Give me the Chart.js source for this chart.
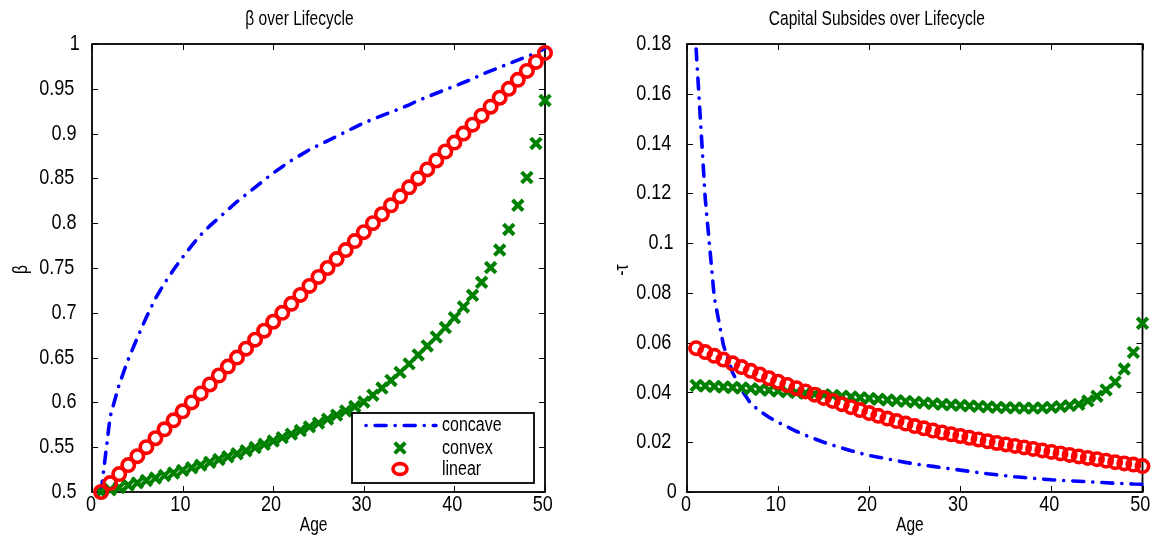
<!DOCTYPE html>
<html>
<head>
<meta charset="utf-8">
<script src="https://cdn.jsdelivr.net/npm/chart.js@4.4.1/dist/chart.umd.min.js"></script>
<style>
  html, body { margin: 0; padding: 0; background: #fff; }
  #wrap { position: relative; width: 1154px; height: 542px; overflow: hidden; }
  #c1 { position: absolute; left: 0; top: 0; }
  #c2 { position: absolute; left: 577px; top: 0; }
</style>
</head>
<body>
<div id="wrap">
  <canvas id="c1" width="577" height="542"></canvas>
  <canvas id="c2" width="577" height="542"></canvas>
</div>
<script>
// ---------------- data ----------------
const ages = [1,2,3,4,5,6,7,8,9,10,11,12,13,14,15,16,17,18,19,20,21,22,23,24,25,26,27,28,29,30,31,32,33,34,35,36,37,38,39,40,41,42,43,44,45,46,47,48,49,50];

const betaConcave = [0.500,0.584,0.620,0.648,0.672,0.695,0.716,0.733,0.748,0.762,0.775,0.787,0.797,0.806,0.815,0.824,0.832,0.840,0.848,0.856,0.863,0.870,0.876,0.882,0.887,0.892,0.897,0.902,0.907,0.912,0.916,0.920,0.924,0.928,0.932,0.937,0.941,0.945,0.949,0.953,0.957,0.961,0.966,0.970,0.974,0.978,0.982,0.986,0.990,0.995];
const betaConvex = [0.5000,0.5025,0.5050,0.5076,0.5102,0.5129,0.5156,0.5184,0.5212,0.5241,0.5270,0.5300,0.5331,0.5362,0.5394,0.5427,0.5461,0.5496,0.5532,0.5569,0.5607,0.5646,0.5686,0.5727,0.5769,0.5813,0.5858,0.5905,0.5954,0.6005,0.6080,0.6160,0.6245,0.6335,0.6430,0.6530,0.6630,0.6730,0.6835,0.6945,0.7065,0.7195,0.7340,0.7505,0.7700,0.7930,0.8200,0.8510,0.8890,0.9370];
const betaLinear = [0.50,0.51,0.52,0.53,0.54,0.55,0.56,0.57,0.58,0.59,0.60,0.61,0.62,0.63,0.64,0.65,0.66,0.67,0.68,0.69,0.70,0.71,0.72,0.73,0.74,0.75,0.76,0.77,0.78,0.79,0.80,0.81,0.82,0.83,0.84,0.85,0.86,0.87,0.88,0.89,0.90,0.91,0.92,0.93,0.94,0.95,0.96,0.97,0.98,0.99];

const tauConcave = [0.178,0.118,0.078,0.059,0.048,0.041,0.0355,0.0325,0.0300,0.0280,0.0262,0.0244,0.0228,0.0214,0.0200,0.0188,0.0177,0.0166,0.0156,0.0147,0.0140,0.0133,0.0126,0.0119,0.0113,0.0108,0.0103,0.0098,0.0093,0.0088,0.0083,0.0078,0.0073,0.0069,0.0065,0.0061,0.0058,0.0055,0.0052,0.0049,0.0047,0.0045,0.0043,0.0041,0.0039,0.0037,0.0035,0.0034,0.0032,0.0031];
const tauConvex = [0.0428,0.0426,0.0424,0.0422,0.0420,0.0418,0.0415,0.0412,0.0409,0.0406,0.0403,0.0400,0.0397,0.0394,0.0391,0.0388,0.0385,0.0382,0.0379,0.0376,0.0373,0.0370,0.0367,0.0364,0.0361,0.0358,0.0355,0.0352,0.0350,0.0348,0.0346,0.0344,0.0342,0.0340,0.0339,0.0338,0.0337,0.0337,0.0338,0.0340,0.0343,0.0347,0.0352,0.0366,0.0385,0.0410,0.0442,0.0494,0.0561,0.0678];
const tauLinear = [0.0578,0.0562,0.0547,0.0532,0.0517,0.0502,0.0487,0.0472,0.0457,0.0443,0.0430,0.0417,0.0404,0.0391,0.0378,0.0366,0.0353,0.0341,0.0329,0.0317,0.0306,0.0295,0.0285,0.0275,0.0265,0.0256,0.0247,0.0239,0.0232,0.0225,0.0218,0.0211,0.0204,0.0197,0.0191,0.0185,0.0179,0.0173,0.0167,0.0161,0.0155,0.0149,0.0143,0.0137,0.0132,0.0126,0.0120,0.0115,0.0110,0.0104];

const xTicks = [0,10,20,30,40,50];
const xTickLabels = ['0','10','20','30','40','50'];
const betaTicks = [0.5,0.55,0.6,0.65,0.7,0.75,0.8,0.85,0.9,0.95,1];
const betaTickLabels = ['0.5','0.55','0.6','0.65','0.7','0.75','0.8','0.85','0.9','0.95','1'];
const tauTicks = [0,0.02,0.04,0.06,0.08,0.1,0.12,0.14,0.16,0.18];
const tauTickLabels = ['0','0.02','0.04','0.06','0.08','0.1','0.12','0.14','0.16','0.18'];

const seriesNames = ['concave','convex','linear'];
const leftTitle = 'β over Lifecycle';
const rightTitle = 'Capital Subsides over Lifecycle';
const xTitle = 'Age';
const leftYTitle = 'β';
const rightYTitle = '-τ';

// ------------- condensed text rendering (laid out at full width, drawn narrow from the start point) -------------
(function () {
  const proto = CanvasRenderingContext2D.prototype;
  const origFill = proto.fillText;
  proto.fillText = function (t, x, y) {
    const w = this.measureText(t).width;
    const m = /(\d+(?:\.\d+)?)px/.exec(this.font);
    const size = m ? parseFloat(m[1]) : 20;
    const sx = size >= 22 ? 0.82 : (size >= 21 ? 0.74 : 0.8);
    const a = this.textAlign;
    let start = x;
    if (a === 'center') start = x - w / 2;
    else if (a === 'right' || a === 'end') start = x - w;
    this.save();
    this.textAlign = 'left';
    this.translate(start, y);
    this.scale(sx, 1);
    origFill.call(this, t, 0, 0);
    this.restore();
  };
})();

Chart.defaults.font.family = "'Liberation Sans', Arial, sans-serif";
Chart.defaults.color = '#000';

const pts = (vals) => ages.map((a, i) => ({ x: a, y: vals[i] }));

const BLUE = '#0000ff', GREEN = '#008000', RED = '#ff0000';

function makeDatasets(concave, convex, linear) {
  return [
    { label: seriesNames[0], data: pts(concave), borderColor: BLUE, backgroundColor: BLUE,
      borderWidth: 3.6, borderDash: [11, 9, 0.1, 9], borderCapStyle: 'round', pointRadius: 0,
      showLine: true, tension: 0, order: 3, clip: false },
    { label: seriesNames[1], data: pts(convex), borderColor: GREEN, backgroundColor: 'rgba(0,0,0,0)',
      showLine: false, pointStyle: 'crossRot', pointRadius: 7.5, pointBorderWidth: 4, borderWidth: 4,
      pointBorderColor: GREEN, order: 2, clip: false },
    { label: seriesNames[2], data: pts(linear), borderColor: RED, backgroundColor: 'rgba(0,0,0,0)',
      showLine: false, pointStyle: 'circle', pointRadius: 6.2, pointBorderWidth: 3.6, borderWidth: 3.6,
      pointBorderColor: RED, pointBackgroundColor: 'rgba(0,0,0,0)', order: 1, clip: false }
  ];
}

const boxTicks = {
  id: 'boxTicks',
  beforeDatasetsDraw(chart) {
    const { ctx, chartArea: a, scales } = chart;
    const x = scales.x, y = scales.y;
    ctx.save();
    ctx.strokeStyle = '#000';
    ctx.lineWidth = 1;
    const L = 6;
    ctx.beginPath();
    x.ticks.forEach(t => {
      const p = Math.round(x.getPixelForValue(t.value)) + 0.5;
      ctx.moveTo(p, a.bottom); ctx.lineTo(p, a.bottom - L);
      ctx.moveTo(p, a.top); ctx.lineTo(p, a.top + L);
    });
    y.ticks.forEach(t => {
      const p = Math.round(y.getPixelForValue(t.value)) + 0.5;
      ctx.moveTo(a.left, p); ctx.lineTo(a.left + L, p);
      ctx.moveTo(a.right, p); ctx.lineTo(a.right - L, p);
    });
    ctx.stroke();
    ctx.lineWidth = 1.8;
    ctx.strokeRect(a.left, a.top, a.right - a.left, a.bottom - a.top);
    ctx.restore();
  }
};

const boxLegend = {
  id: 'boxLegend',
  afterDatasetsDraw(chart) {
    const { ctx, chartArea: a } = chart;
    const w = 182, h = 70;
    const left = a.right - 11 - w, top = a.bottom - 9 - h;
    ctx.save();
    ctx.fillStyle = '#fff';
    ctx.fillRect(left, top, w, h);
    ctx.strokeStyle = '#000';
    ctx.lineWidth = 1.8;
    ctx.strokeRect(left, top, w, h);
    const rows = [top + 12.5, top + 35, top + 56];
    const ds = chart.data.datasets;
    // row 0 : dash-dot line sample
    ctx.strokeStyle = ds[0].borderColor;
    ctx.lineWidth = ds[0].borderWidth;
    ctx.lineCap = 'round';
    ctx.setLineDash(ds[0].borderDash);
    ctx.lineDashOffset = 20;
    ctx.beginPath();
    ctx.moveTo(left + 14, rows[0]);
    ctx.lineTo(left + 84, rows[0]);
    ctx.stroke();
    ctx.setLineDash([]);
    ctx.lineCap = 'butt';
    const mx = left + 48;
    // row 1 : x marker
    ctx.strokeStyle = ds[1].pointBorderColor; ctx.lineWidth = ds[1].pointBorderWidth;
    ctx.beginPath();
    const r1 = ds[1].pointRadius * Math.SQRT1_2;
    ctx.moveTo(mx - r1, rows[1] - r1); ctx.lineTo(mx + r1, rows[1] + r1);
    ctx.moveTo(mx - r1, rows[1] + r1); ctx.lineTo(mx + r1, rows[1] - r1);
    ctx.stroke();
    // row 2 : circle marker
    ctx.strokeStyle = ds[2].pointBorderColor; ctx.lineWidth = ds[2].pointBorderWidth;
    ctx.beginPath();
    ctx.ellipse(mx, rows[2], ds[2].pointRadius + 0.8, ds[2].pointRadius - 0.8, 0, 0, Math.PI * 2);
    ctx.stroke();
    ctx.fillStyle = '#000';
    ctx.font = "20px 'Liberation Sans', Arial, sans-serif";
    ctx.textAlign = 'left';
    ctx.textBaseline = 'middle';
    ds.forEach((d, i) => ctx.fillText(d.label, left + 90, rows[i]));
    ctx.restore();
  }
};

function makeOptions(cfg) {
  return {
    responsive: false,
    maintainAspectRatio: false,
    animation: false,
    events: [],
    layout: { padding: { left: 0, right: cfg.padRight, top: 0, bottom: 0 } },
    plugins: {
      legend: { display: false },
      tooltip: { enabled: false },
      title: {
        display: true, text: cfg.title, fullSize: false,
        font: { size: 21, weight: 'normal' }, color: '#000',
        padding: { top: 7, bottom: 11.8 }
      }
    },
    scales: {
      x: {
        type: 'linear', min: 0, max: 50,
        afterBuildTicks: (s) => { s.ticks = xTicks.map(v => ({ value: v })); },
        afterFit: (s) => { s.height = 50; s.paddingLeft = 0; s.paddingRight = 0; },
        ticks: { font: { size: 22 }, padding: 0, maxRotation: 0, autoSkip: false,
                 callback: (v, i) => xTickLabels[i] },
        grid: { display: false, drawTicks: false },
        border: { display: false },
        title: { display: true, text: xTitle, font: { size: 21 }, padding: { top: 0, bottom: 4.4 } }
      },
      y: {
        type: 'linear', min: cfg.yMin, max: cfg.yMax,
        afterBuildTicks: (s) => { s.ticks = cfg.yTicks.map(v => ({ value: v })); },
        afterFit: (s) => { s.width = cfg.yWidth; s.paddingTop = 0; s.paddingBottom = 0; },
        ticks: { font: { size: 22 }, padding: cfg.yTickPad, autoSkip: false,
                 callback: (v, i) => cfg.yTickLabels[i] },
        grid: { display: false, drawTicks: false },
        border: { display: false },
        title: { display: true, text: cfg.yTitle, font: { size: 21 }, padding: { top: cfg.yTitlePad, bottom: 0 } }
      }
    }
  };
}

new Chart(document.getElementById('c1'), {
  type: 'line',
  data: { datasets: makeDatasets(betaConcave, betaConvex, betaLinear) },
  options: makeOptions({ title: leftTitle, padRight: 32, yMin: 0.5, yMax: 1, yTicks: betaTicks,
    yTickLabels: betaTickLabels, yWidth: 92, yTickPad: 10, yTitle: leftYTitle, yTitlePad: 8.4 }),
  plugins: [boxTicks, boxLegend]
});

new Chart(document.getElementById('c2'), {
  type: 'line',
  data: { datasets: makeDatasets(tauConcave, tauConvex, tauLinear) },
  options: makeOptions({ title: rightTitle, padRight: 11, yMin: 0, yMax: 0.18, yTicks: tauTicks,
    yTickLabels: tauTickLabels, yWidth: 110, yTickPad: 8, yTitle: rightYTitle, yTitlePad: 32.4 }),
  plugins: [boxTicks]
});
</script>
</body>
</html>
